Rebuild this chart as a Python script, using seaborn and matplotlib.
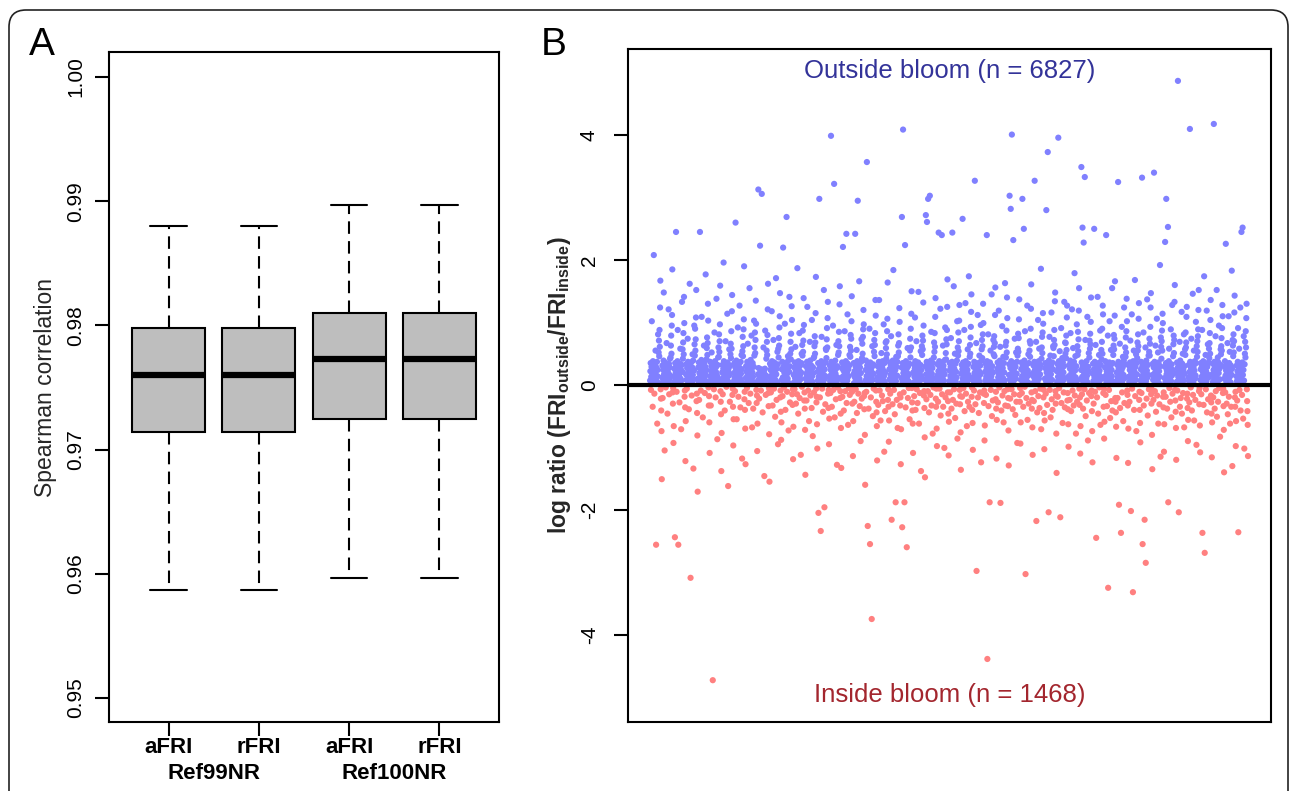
import matplotlib
matplotlib.use("Agg")
import matplotlib.pyplot as plt
import matplotlib.transforms as mtransforms
from matplotlib.patches import FancyBboxPatch
import numpy as np
import pandas as pd
import seaborn as sns


# panel A, box summaries
references = ["Ref99NR", "Ref99NR", "Ref100NR", "Ref100NR"]
methods = ["aFRI", "rFRI", "aFRI", "rFRI"]
whisker_low = [0.9587, 0.9587, 0.9597, 0.9597]
q1 = [0.9714, 0.9714, 0.9725, 0.9725]
median = [0.9760, 0.9760, 0.9773, 0.9773]
q3 = [0.9798, 0.9798, 0.9810, 0.9810]
whisker_high = [0.9880, 0.9880, 0.9897, 0.9897]

# panel B, gene counts and log ratios in gene order (estimated from the plot)
n_outside = 6827
n_inside = 1468
log_ratio = [
    0.07, 0.22, 0.35, -0.08, 0.13, 0.29, 1.02, 0.05, 0.18, -0.35, 0.38, 0.11, 0.26, 2.08, 0.04, -0.14, 0.21, 0.33, 0.09, 0.55, 0.16, -2.56, 0.28, 0.06, 0.37, -0.62, 0.14, 0.24, 0.81, 0.03,
    0.52, 0.71, 0.46, 0.88, 0.61, 1.24, 1.67, -0.07, -0.22, -0.41, -0.74, -1.51,
    0.12, 0.31, -0.21, 0.05, 0.24, 0.39, 1.48, 0.17, 0.08, -1.05, 0.27, 0.36, 0.14, -0.04, 0.21, 0.06, 0.67, 0.32, 0.11, -0.46, 0.25, 0.03, 0.19, 1.21, 0.34, -0.15, 0.09, 0.28, 0.42, 0.15,
    0.44, 0.63, 0.79, 0.5, 0.95, 1.12, 1.85, -0.12, -0.3, -0.05, -0.93, -0.66,
    0.04, 0.26, 0.13, -2.44, 0.35, 0.09, 0.2, 2.45, 0.31, -0.11, 0.16, 0.06, 0.38, 0.88, 0.23, -2.56, 0.12, 0.29, 0.05, -0.28, 0.18, 0.34, 0.58, 0.1, 0.25, -0.71, 0.07, 0.32, 1.33, 0.21,
    0.57, 0.42, 0.68, 0.83, 0.49, 1.41, 0.99, -0.19, -0.09, -0.36, -1.22, -0.58,
    0.17, 0.33, 0.08, -0.06, 0.27, 0.14, 0.74, 0.37, 0.03, 0.22, -0.39, 0.11, 0.3, 1.62, 0.19, 0.06, -3.09, 0.25, 0.36, 0.13, -0.17, 0.04, 0.28, 0.49, 0.16, 0.39, -1.34, 0.09, 0.23, 0.95,
    0.65, 0.47, 0.9, 0.55, 0.73, 1.08, 1.52, -0.26, -0.14, -0.45, -0.81, -1.71,
    0.1, 0.28, 0.05, 0.36, -0.24, 0.19, 0.12, 2.45, 0.31, 0.07, -0.09, 0.23, 0.4, 1.09, 0.15, 0.04, 0.33, -0.52, 0.21, 0.26, 0.08, 0.63, 0.35, 0.13, -0.13, 0.18, 0.29, 1.77, 0.06, 0.24,
    0.41, 0.59, 0.76, 0.48, 0.67, 1.3, 1.03, -0.04, -0.33, -0.18, -0.6, -1.09,
    0.14, 0.37, 0.06, -0.33, 0.22, 0.3, 0.52, 0.11, 0.03, 0.27, -4.73, 0.17, 0.34, 0.09, -0.07, 0.25, 0.84, 0.13, 0.38, 0.05, -0.2, 0.21, 0.29, 1.38, 0.16, 0.07, -0.87, 0.32, 0.12, 0.44,
    0.6, 0.45, 0.81, 0.53, 0.7, 0.97, 1.59, -0.1, -0.27, -0.47, -1.38, -0.77,
    0.05, 0.2, 0.32, -0.15, 0.1, 0.26, 1.96, 0.38, 0.14, 0.04, -0.41, 0.23, 0.33, 0.7, 0.08, 0.18, -0.03, 0.29, 0.12, 1.14, 0.36, 0.06, -1.62, 0.21, 0.27, 0.15, 0.57, 0.03, -0.27, 0.31,
    0.49, 0.66, 0.43, 0.86, 0.58, 1.18, 1.44, -0.16, -0.06, -0.35, -0.97, -0.55,
    0.19, 0.07, 0.35, 0.12, -0.1, 0.28, 2.6, 0.04, 0.24, 0.39, -0.55, 0.16, 0.31, 0.09, 0.92, 0.22, -0.19, 0.05, 0.34, 0.14, 1.27, 0.27, 0.1, -0.36, 0.37, 0.18, 0.06, 0.48, 0.25, -1.18,
    0.54, 0.77, 0.46, 0.62, 0.89, 1.05, 1.9, -0.23, -0.11, -0.4, -0.7, -1.27,
    0.11, 0.3, 0.03, 0.21, -0.05, 0.37, 0.15, 0.66, 0.26, 0.08, -0.29, 0.33, 0.18, 1.55, 0.05, 0.24, -0.14, 0.4, 0.12, 0.28, 0.79, 0.07, -0.68, 0.2, 0.35, 0.13, -0.38, 0.04, 0.29, 1.03,
    0.47, 0.6, 0.84, 0.51, 0.72, 1.35, 0.98, -0.08, -0.29, -0.17, -1.06, -0.62,
    0.06, 0.17, 3.13, 0.27, 0.09, -0.22, 0.14, 0.04, 2.23, 0.21, 0.11, -0.09, 0.25, 0.05, 3.06, 0.18, 0.08, -0.44, 0.23, 0.13, 0.6, 0.03, 0.2, -1.46, 0.1, 0.26, 0.87, 0.07, -0.16, 0.15,
    0.42, 0.55, 0.69, 0.48, 0.8, 1.21, 1.62, -0.13, -0.34, -0.05, -0.79, -1.55,
    0.13, 0.34, 0.05, 0.24, -0.12, 0.3, 0.09, 1.18, 0.38, 0.19, -0.33, 0.03, 0.27, 0.72, 0.15, -0.06, 0.36, 0.1, 0.22, -0.51, 0.31, 0.07, 1.71, 0.17, -0.24, 0.26, 0.04, 0.53, 0.33, -0.95,
    0.58, 0.44, 0.75, 0.63, 0.92, 1.1, 1.47, -0.2, -0.09, -0.43, -0.88, -0.6,
    0.08, 0.25, 0.37, -0.18, 0.12, 2.2, 0.29, 0.05, -0.04, 0.2, 0.35, 0.98, 0.14, -0.4, 0.27, 0.06, 0.32, 2.69, 0.17, -0.11, 0.23, 0.1, 0.46, 0.39, -0.73, 0.03, 0.21, 1.41, 0.3, -0.28,
    0.5, 0.69, 0.41, 0.82, 0.57, 1.26, 1.04, -0.15, -0.32, -0.07, -1.19, -0.67,
    0.16, 0.04, 0.28, -0.07, 0.36, 0.11, 0.61, 0.22, -0.3, 0.07, 0.33, 0.19, -0.15, 1.87, 0.26, 0.13, -0.46, 0.38, 0.05, 0.24, 0.83, -0.21, 0.15, 0.31, 0.09, -1.12, 0.2, 0.35, 0.5, -0.03,
    0.64, 0.47, 0.87, 0.53, 0.71, 1.39, 0.96, -0.25, -0.12, -0.38, -0.72, -1.44,
    0.1, 0.3, 0.18, -0.25, 0.03, 0.37, 1.25, 0.24, 0.12, -0.09, 0.33, 0.06, -0.58, 0.27, 0.15, 0.69, 0.39, -0.17, 0.08, 0.22, 0.31, -0.37, 1.04, 0.14, 0.05, -0.82, 0.28, 0.19, 0.43, -0.12,
    0.45, 0.62, 0.78, 0.5, 0.68, 1.15, 1.73, -0.06, -0.28, -0.19, -0.63, -1.02,
    0.21, 0.07, 0.35, -2.05, 0.13, 0.26, 2.98, 0.04, -0.2, 0.32, 0.17, -2.34, 0.09, 0.38, 0.77, 0.23, -0.06, 0.12, 0.29, -0.43, 0.05, 0.34, 1.52, 0.16, -1.96, 0.25, 0.1, -0.31, 0.36, 0.58,
    0.56, 0.43, 0.73, 0.91, 0.6, 1.07, 1.33, -0.14, -0.37, -0.08, -0.95, -0.54,
    0.14, 0.31, 0.06, -0.13, 0.24, 3.99, 0.37, 0.11, -0.35, 0.19, 0.03, 0.28, 0.95, -0.08, 0.33, 0.15, 3.22, 0.22, -0.52, 0.08, 0.39, 0.18, -0.23, 0.26, 0.64, 0.05, -1.28, 0.3, 0.12, -0.04,
    0.48, 0.7, 0.52, 0.85, 0.62, 1.29, 1.58, -0.21, -0.1, -0.46, -0.69, -1.33,
    0.09, 0.27, 0.36, -0.19, 0.13, 2.21, 0.05, 0.23, -0.41, 0.32, 0.16, 0.86, 0.04, -0.1, 0.29, 0.38, 0.11, 2.42, -0.29, 0.2, 0.07, 1.13, 0.34, -0.64, 0.25, 0.14, -0.05, 0.31, 0.48, -0.16,
    0.61, 0.45, 0.8, 0.55, 0.74, 1.02, 1.42, -0.11, -0.3, -0.04, -1.14, -0.58,
    0.17, 0.35, 0.03, -0.27, 0.22, 0.12, 2.42, 0.3, -0.07, 0.08, 0.26, 0.56, -0.45, 0.38, 0.15, 2.95, 0.06, -0.14, 0.33, 0.21, 1.66, 0.1, -0.34, 0.28, 0.04, -0.9, 0.19, 0.37, 0.73, -0.22,
    0.43, 0.66, 0.5, 0.77, 0.89, 1.2, 0.97, -0.18, -0.39, -0.13, -0.8, -1.6,
    0.07, 0.24, 0.39, -0.11, 0.14, 3.57, 0.31, 0.05, -2.26, 0.2, 0.34, -0.38, 0.1, 0.27, 0.9, 0.16, -2.55, 0.36, 0.03, -0.2, 0.23, 0.13, -3.75, 0.29, 0.62, 0.08, -0.5, 0.33, 0.18, -0.06,
    0.53, 0.72, 0.46, 0.64, 0.83, 1.36, 1.11, -0.09, -0.27, -0.44, -0.66, -1.21,
    0.12, 0.3, 0.06, -0.32, 0.21, 0.37, 1.36, 0.15, -0.09, 0.26, 0.04, -0.57, 0.33, 0.18, 0.51, 0.1, -0.17, 0.28, 0.38, -0.26, 0.08, 0.23, 0.97, 0.14, -1.07, 0.35, 0.05, -0.42, 0.2, 0.68,
    0.59, 0.42, 0.7, 0.49, 0.86, 1.06, 1.64, -0.24, -0.07, -0.35, -0.91, -0.57,
    0.25, 0.09, 0.36, -0.14, 0.16, 0.31, 0.78, 0.03, -2.16, 0.22, 0.12, -0.31, 0.39, 0.27, 1.84, 0.07, -0.08, 0.18, 0.34, -0.47, 0.11, 0.24, -1.88, 0.06, 0.45, 0.29, -0.24, 0.15, 0.37, -0.69,
    0.46, 0.63, 0.81, 0.52, 0.67, 1.23, 1.01, -0.15, -0.33, -0.2, -1.27, -0.71,
    0.11, 0.28, 2.69, -2.28, 0.05, 0.35, 4.09, 0.19, -0.12, 0.24, 0.08, -1.88, 0.32, 2.24, 0.14, -0.36, 0.38, 0.03, 0.21, -2.6, 0.27, 0.13, 0.59, -0.21, 0.3, 0.06, -0.05, 0.17, 0.34, -0.55,
    0.55, 0.74, 0.44, 0.9, 0.6, 1.14, 1.5, -0.05, -0.28, -0.41, -0.62, -1.09,
    0.2, 0.04, 0.33, -0.18, 0.13, 0.26, 1.08, 0.38, -0.4, 0.09, 0.22, 0.7, -0.07, 0.31, 0.16, -0.29, 0.05, 0.36, 1.49, 0.12, -0.62, 0.27, 0.19, -0.13, 0.07, 0.32, 0.54, -1.38, 0.24, 0.14,
    0.62, 0.48, 0.79, 0.57, 0.71, 1.32, 0.95, -0.17, -0.1, -0.37, -0.84, -1.48,
    0.08, 0.3, 2.72, 0.17, -0.23, 0.37, 2.61, 0.04, 0.25, -0.1, 2.98, 0.13, 0.34, -0.44, 0.06, 0.21, 3.03, 0.29, -0.16, 0.11, 0.39, 0.85, -0.33, 0.18, 0.03, 0.27, -0.78, 0.35, 0.1, -0.04,
    0.44, 0.68, 0.53, 0.83, 0.61, 1.09, 1.39, -0.22, -0.35, -0.06, -0.7, -0.98,
    0.15, 0.33, 0.05, -0.27, 0.22, 2.44, 0.11, 0.38, -0.06, 0.28, 0.08, 1.22, -0.49, 0.19, 0.36, 0.03, 2.4, -0.15, 0.26, 0.13, 0.63, -0.35, 0.31, 0.07, 0.24, -1.01, 0.17, 0.4, 0.92, -0.2,
    0.51, 0.41, 0.73, 0.65, 0.88, 1.25, 1.69, -0.12, -0.26, -0.46, -1.13, -0.59,
    0.06, 0.23, 0.35, -0.12, 0.14, 0.29, 0.75, 0.09, -0.38, 0.2, 0.37, 2.44, 0.04, -0.24, 0.31, 0.16, 1.58, -0.07, 0.26, 0.11, 0.5, -0.53, 0.34, 0.05, 0.21, -0.3, 0.12, 0.39, 1.02, -0.86,
    0.6, 0.47, 0.84, 0.54, 0.7, 1.03, 1.28, -0.08, -0.31, -0.18, -0.76, -1.36,
    0.18, 0.03, 0.32, -0.19, 0.25, 2.66, 0.1, 0.36, -0.05, 0.14, 0.28, 0.88, -0.42, 0.07, 0.21, 1.31, 0.38, -0.14, 0.12, 0.3, -0.66, 0.05, 0.24, 0.57, -0.27, 0.34, 0.16, 1.74, 0.09, -0.35,
    0.45, 0.64, 0.5, 0.76, 0.93, 1.17, 1.45, -0.19, -0.04, -0.4, -0.61, -1.04,
    0.12, 0.29, 0.06, -0.09, 0.37, 0.19, 3.27, 0.04, -0.31, 0.24, 0.33, 0.67, -2.98, 0.14, 0.08, 0.27, 1.12, -0.2, 0.35, 0.11, -0.45, 0.22, 0.47, 0.05, -0.12, 0.31, 0.17, 0.96, -1.24, 0.39,
    0.57, 0.72, 0.43, 0.62, 0.81, 1.3, 0.99, -0.14, -0.29, -0.09, -0.89, -0.65,
    0.21, 0.07, 0.34, -0.16, 0.13, 0.28, 2.4, 0.38, -4.39, 0.1, 0.25, 0.81, -0.34, 0.04, 0.31, 0.17, -1.88, 0.36, 0.09, 0.55, -0.08, 0.23, 0.14, 1.45, -0.5, 0.3, 0.06, -0.25, 0.2, 0.72,
    0.49, 0.61, 0.78, 0.46, 0.67, 1.12, 1.56, -0.23, -0.11, -0.38, -1.18, -0.56,
    0.05, 0.26, 0.36, -0.28, 0.12, 0.19, 1.19, 0.32, -0.04, 0.08, 0.39, 0.61, -1.89, 0.23, 0.15, -0.41, 0.3, 0.03, 0.94, -0.17, 0.27, 0.11, 0.45, -0.6, 0.35, 0.2, -0.1, 0.07, 1.63, -0.33,
    0.63, 0.44, 0.69, 0.87, 0.52, 1.4, 1.07, -0.07, -0.34, -0.21, -0.73, -1.29,
    0.16, 0.33, 3.03, 0.09, -0.22, 0.27, 2.82, 0.04, 0.38, -0.07, 4.01, 0.2, 0.12, -0.39, 0.31, 2.32, 0.06, 0.24, -0.15, 0.35, 0.74, 0.14, -0.48, 0.29, 0.1, 0.52, -0.27, 0.18, 0.37, -0.93,
    0.47, 0.58, 0.82, 0.53, 0.75, 1.05, 1.37, -0.16, -0.27, -0.05, -0.94, -0.6,
    0.08, 0.25, 0.36, -0.13, 0.14, 2.98, 0.3, 0.05, -0.35, 0.21, 2.5, 0.11, 0.39, -0.03, 0.86, 0.18, -3.03, 0.27, 0.07, -0.21, 0.33, 0.13, 1.27, -0.56, 0.23, 0.04, 0.49, -0.3, 0.35, 0.16,
    0.55, 0.7, 0.45, 0.66, 0.9, 1.22, 1.61, -0.12, -0.38, -0.24, -0.68, -1.12,
    0.19, 0.03, 0.31, -0.26, 0.12, 0.37, 3.27, 0.24, -0.1, 0.07, 0.28, 0.69, -2.18, 0.15, 0.34, -0.44, 0.05, 0.22, 1.04, -0.18, 0.38, 0.1, 0.58, -0.37, 0.26, 0.17, -0.06, 0.32, 1.86, -0.71,
    0.42, 0.6, 0.77, 0.51, 0.84, 1.15, 0.98, -0.2, -0.08, -0.45, -1.03, -0.57,
    0.1, 0.27, 0.35, -0.14, 0.06, 2.8, 0.2, 0.33, -0.32, 0.14, 3.73, 0.04, 0.29, -2.04, 0.39, 0.12, 0.77, -0.08, 0.23, 0.47, -0.52, 0.17, 0.31, 1.16, -0.23, 0.08, 0.36, -0.4, 0.25, 0.62,
    0.59, 0.46, 0.72, 0.88, 0.64, 1.34, 1.48, -0.1, -0.3, -0.17, -0.78, -1.41,
    0.22, 0.05, 0.34, -0.19, 0.13, 3.96, 0.28, 0.38, -0.05, 0.09, 0.54, 0.18, -2.12, 0.31, 0.03, 0.91, -0.29, 0.25, 0.15, 0.43, -0.61, 0.36, 0.07, 0.2, -0.12, 0.3, 1.33, 0.11, -0.36, 0.68,
    0.5, 0.67, 0.43, 0.79, 0.56, 1.08, 1.27, -0.25, -0.13, -0.39, -0.63, -0.99,
    0.14, 0.32, 0.07, -0.24, 0.26, 0.39, 0.83, 0.11, -0.42, 0.19, 0.35, 1.21, 0.04, -0.09, 0.28, 0.59, 0.16, -0.33, 0.37, 0.08, 1.79, -0.17, 0.23, 0.46, 0.12, -0.78, 0.3, 0.05, 0.97, -0.27,
    0.62, 0.48, 0.85, 0.54, 0.73, 1.19, 1.55, -0.06, -0.32, -0.2, -1.1, -0.66,
    0.09, 0.24, 3.49, 0.36, -0.15, 0.13, 2.52, 0.3, -0.38, 0.05, 2.28, 0.2, 0.33, -0.07, 3.33, 0.17, 0.72, -0.5, 0.27, 0.1, 0.38, -0.25, 0.15, 1.09, 0.04, -0.89, 0.29, 0.22, 0.51, -0.13,
    0.44, 0.71, 0.58, 0.82, 0.65, 1.01, 1.4, -0.18, -0.09, -0.42, -0.74, -1.24,
    0.18, 0.34, 0.06, -0.3, 0.25, 2.5, 0.12, 0.37, -0.11, 0.21, 0.64, 0.03, -2.45, 0.31, 0.15, -0.2, 0.27, 1.41, 0.09, -0.46, 0.35, 0.19, 0.48, -0.04, 0.23, 0.07, 0.87, -0.64, 0.32, 0.13,
    0.56, 0.41, 0.69, 0.9, 0.5, 1.27, 1.13, -0.13, -0.35, -0.06, -0.86, -0.59,
    0.1, 0.28, 0.38, -0.16, 0.15, 2.4, 0.04, 0.22, -0.34, 0.33, 0.12, 0.79, -3.25, 0.26, 0.06, -0.08, 0.36, 1.02, 0.19, -0.53, 0.3, 0.09, 0.56, -0.26, 0.24, 0.14, 1.55, -0.41, 0.35, 0.05,
    0.48, 0.63, 0.8, 0.57, 0.74, 1.11, 1.66, -0.21, -0.27, -0.44, -0.67, -1.17,
    0.2, 0.07, 0.32, -0.21, 0.13, 3.25, 0.37, 0.26, -1.92, 0.04, 0.17, 0.66, -0.37, 0.3, 0.1, -2.37, 0.35, 0.23, 0.93, -0.12, 0.06, 0.28, 0.45, -0.58, 0.16, 0.39, 1.24, -0.29, 0.11, 0.33,
    0.6, 0.45, 0.76, 0.52, 0.86, 1.38, 1.02, -0.09, -0.16, -0.33, -1.25, -0.7,
    0.13, 0.31, 0.05, -0.27, 0.24, 0.36, 0.71, 0.09, -2.02, 0.19, 0.34, 1.13, -0.06, 0.27, 0.15, -3.32, 0.38, 0.03, 0.55, -0.4, 0.22, 0.11, 1.68, -0.18, 0.29, 0.08, 0.49, -0.74, 0.35, 0.17,
    0.43, 0.68, 0.55, 0.81, 0.62, 1.06, 1.31, -0.24, -0.11, -0.4, -0.61, -0.92,
    0.07, 0.25, 0.37, -0.13, 0.14, 3.32, 0.3, -2.55, 0.04, 0.21, 0.84, -0.33, 0.33, 0.11, -2.16, 0.27, 0.18, 0.6, -2.85, 0.06, 0.39, -0.22, 0.23, 1.37, 0.12, -0.49, 0.32, 0.16, 0.47, -0.07,
    0.53, 0.74, 0.47, 0.66, 0.93, 1.24, 1.47, -0.15, -0.3, -0.07, -0.8, -1.35,
    0.16, 0.34, 0.08, -0.24, 0.28, 3.4, 0.12, 0.37, -0.1, 0.2, 0.63, 0.05, -0.43, 0.31, 0.15, 1.06, -0.17, 0.26, 0.09, 0.52, -0.62, 0.36, 0.03, 0.22, -0.31, 0.13, 1.92, 0.3, -1.15, 0.76,
    0.61, 0.42, 0.7, 0.87, 0.55, 1.14, 0.99, -0.19, -0.36, -0.12, -1.07, -0.63,
    0.11, 0.29, 2.29, 0.04, -0.19, 0.35, 2.98, 0.17, 0.23, -0.38, 0.07, 0.32, 2.53, -1.88, 0.14, 0.38, 0.58, -0.05, 0.26, 0.1, -0.27, 0.2, 0.89, 0.06, -0.52, 0.33, 0.15, 1.28, -0.14, 0.24,
    0.46, 0.65, 0.79, 0.51, 0.72, 1.33, 1.6, -0.08, -0.25, -0.43, -0.69, -1.2,
    0.19, 0.05, 0.36, -0.09, 0.27, 4.87, 0.13, 0.31, -2.04, 0.08, 0.22, 0.69, -0.35, 0.39, 0.16, -0.21, 0.03, 0.28, 1.17, -0.46, 0.34, 0.11, 0.5, -0.13, 0.24, 0.07, 0.81, -0.68, 0.3, 0.18,
    0.57, 0.48, 0.84, 0.6, 0.68, 1.09, 1.25, -0.22, -0.14, -0.37, -0.9, -0.56,
    0.12, 0.32, 0.06, -0.28, 0.21, 4.1, 0.37, 0.14, -0.04, 0.26, 0.74, 0.09, -0.41, 0.33, 0.18, 1.46, -0.16, 0.04, 0.29, 0.55, -0.57, 0.23, 0.38, 0.1, -0.24, 0.15, 1.01, 0.35, -0.96, 0.62,
    0.45, 0.7, 0.53, 0.78, 0.89, 1.2, 1.52, -0.1, -0.31, -0.05, -0.65, -1.08,
    0.08, 0.25, 0.35, -0.15, 0.13, 0.3, 0.88, -2.37, 0.04, 0.2, 0.38, -0.32, 0.16, 1.74, 0.27, -2.69, 0.1, 0.33, 0.48, -0.07, 0.22, 0.06, 1.19, -0.44, 0.29, 0.17, 0.65, -0.23, 0.36, 0.12,
    0.58, 0.43, 0.67, 0.83, 0.5, 1.04, 1.36, -0.17, -0.28, -0.46, -1.16, -0.6,
    0.17, 0.34, 0.05, -0.2, 0.24, 4.18, 0.11, 0.37, -0.38, 0.28, 0.08, 0.78, -0.1, 0.31, 0.14, 1.52, -0.51, 0.21, 0.03, 0.44, -0.27, 0.36, 0.19, 0.95, -0.05, 0.26, 0.09, -0.83, 0.32, 0.57,
    0.49, 0.62, 0.75, 0.55, 0.91, 1.28, 1.1, -0.13, -0.06, -0.34, -0.72, -1.4,
    0.1, 0.29, 0.38, -0.12, 0.15, 2.26, 0.23, 0.05, -0.3, 0.33, 0.18, 0.67, -0.47, 0.27, 0.07, 1.1, -0.19, 0.35, 0.12, 0.53, -0.62, 0.21, 0.04, 0.31, -0.35, 0.16, 1.83, 0.26, -1.3, 0.72,
    0.63, 0.46, 0.81, 0.52, 0.7, 1.16, 1.43, -0.2, -0.35, -0.11, -0.98, -0.58,
    0.14, 0.31, 0.06, -0.25, 0.22, 0.37, 0.91, -2.36, 0.12, 0.27, 0.58, -0.08, 0.34, 0.04, 1.24, -0.41, 0.19, 0.29, 2.45, 0.09, -0.16, 0.36, 2.52, 0.16, -0.54, 0.24, 0.78, 0.07, -1.02, 0.33,
    0.5, 0.69, 0.44, 0.86, 0.6, 1.07, 1.3, -0.07, -0.26, -0.42, -0.64, -1.14,
]


def style_axes(ax):
    for side in ["left", "right", "top", "bottom"]:
        ax.spines[side].set_visible(True)
        ax.spines[side].set_color("black")
        ax.spines[side].set_linewidth(1.5)
    ax.tick_params(direction="out", length=10, width=1.5, color="black", labelcolor="black")


def rotate_yticks(ax):
    for lab in ax.get_yticklabels():
        lab.set_rotation(90)
        lab.set_va("center")


def draw_boxes(ax):
    rows = []
    for i in range(len(methods)):
        key = references[i] + " " + methods[i]
        for v in (whisker_low[i], q1[i], median[i], q3[i], whisker_high[i]):
            rows.append((key, v))
    df = pd.DataFrame(rows, columns=["group", "spearman"])
    order = [r + " " + m for r, m in zip(references, methods)]

    sns.boxplot(data=df, x="group", y="spearman", order=order, ax=ax,
                color="#bebebe", saturation=1, width=0.81, whis=(0, 100),
                linewidth=1.5, linecolor="black", fliersize=0,
                medianprops=dict(linewidth=4.5, color="black", solid_capstyle="butt"),
                whiskerprops=dict(linestyle=(0, (6, 3.5)), linewidth=1.5),
                capprops=dict(linewidth=1.5))

    style_axes(ax)
    ax.set_xlim(-0.66, 3.66)
    ax.set_ylim(0.94807, 1.00201)
    ax.set_xticks(range(len(methods)))
    ax.set_xticklabels(methods, fontweight="bold", fontsize=16)
    ax.tick_params(axis="x", pad=1)
    yt = [0.95, 0.96, 0.97, 0.98, 0.99, 1.00]
    ax.set_yticks(yt)
    ax.set_yticklabels(["%.2f" % v for v in yt], fontsize=15)
    ax.tick_params(axis="y", pad=7)
    rotate_yticks(ax)
    ax.set_xlabel("")
    ax.set_ylabel("Spearman correlation", fontsize=16.5, va="center")
    ax.yaxis.set_label_coords(-0.164, 0.5)

    trans = mtransforms.blended_transform_factory(ax.transData, ax.transAxes)
    ax.text(0.5, -0.085, "Ref99NR", transform=trans, ha="center", va="baseline",
            fontweight="bold", fontsize=16, clip_on=False)
    ax.text(2.5, -0.085, "Ref100NR", transform=trans, ha="center", va="baseline",
            fontweight="bold", fontsize=16, clip_on=False)


def draw_ratios(ax):
    df = pd.DataFrame({"gene": np.arange(len(log_ratio)), "log_ratio": log_ratio})
    df["bloom"] = np.where(df["log_ratio"] > 0, "outside", "inside")
    sns.scatterplot(data=df, x="gene", y="log_ratio", hue="bloom",
                    palette={"outside": "#8080ff", "inside": "#ff8080"},
                    s=20, linewidth=0, legend=False, ax=ax)
    ax.axhline(0, color="black", linewidth=3)

    style_axes(ax)
    n = len(log_ratio)
    ax.set_xlim(-0.037 * n, (n - 1) + 0.0385 * n)
    ax.set_ylim(-5.40, 5.38)
    ax.set_xticks([])
    ax.set_xlabel("")
    yt = [-4, -2, 0, 2, 4]
    ax.set_yticks(yt)
    ax.set_yticklabels([str(v) for v in yt], fontsize=15)
    ax.tick_params(axis="y", pad=11)
    rotate_yticks(ax)
    ax.set_ylabel(r"log ratio (FRI$_{\mathbf{outside}}$/FRI$_{\mathbf{inside}}$)",
                  fontsize=16.5, fontweight="bold", va="center")
    ax.yaxis.set_label_coords(-0.106, 0.5)

    ax.text(0.5, 0.957, "Outside bloom (n = %d)" % n_outside, transform=ax.transAxes,
            ha="center", va="baseline", color="#333399", fontsize=18.5)
    ax.text(0.5, 0.0297, "Inside bloom (n = %d)" % n_inside, transform=ax.transAxes,
            ha="center", va="baseline", color="#a3262e", fontsize=18.5)


sns.set_style("ticks")
plt.rcParams["font.family"] = ["Liberation Sans", "DejaVu Sans"]
plt.rcParams["axes.unicode_minus"] = False
plt.rcParams["mathtext.fontset"] = "custom"
plt.rcParams["mathtext.rm"] = "Liberation Sans"
plt.rcParams["mathtext.bf"] = "Liberation Sans:bold"
plt.rcParams["mathtext.it"] = "Liberation Sans:italic"
plt.rcParams["text.color"] = "black"

fig = plt.figure(figsize=(12.9, 7.91), dpi=100)
fig.patch.set_facecolor("white")
axA = fig.add_axes([0.0845, 0.0872, 0.3023, 0.8470])
axB = fig.add_axes([0.4868, 0.0872, 0.4985, 0.8508])

draw_boxes(axA)
draw_ratios(axB)

fig.text(0.0225, 0.9305, "A", fontsize=28, ha="left", va="baseline")
fig.text(0.4194, 0.9305, "B", fontsize=28, ha="left", va="baseline")

# rounded frame around the whole figure, open at the bottom edge
frame = FancyBboxPatch((0.09, -0.5), 12.79, 8.31,
                       boxstyle="round,pad=0,rounding_size=0.17",
                       transform=fig.dpi_scale_trans, facecolor="none",
                       edgecolor="#222222", linewidth=1.2)
fig.add_artist(frame)

fig.savefig("out.png", dpi=100)
